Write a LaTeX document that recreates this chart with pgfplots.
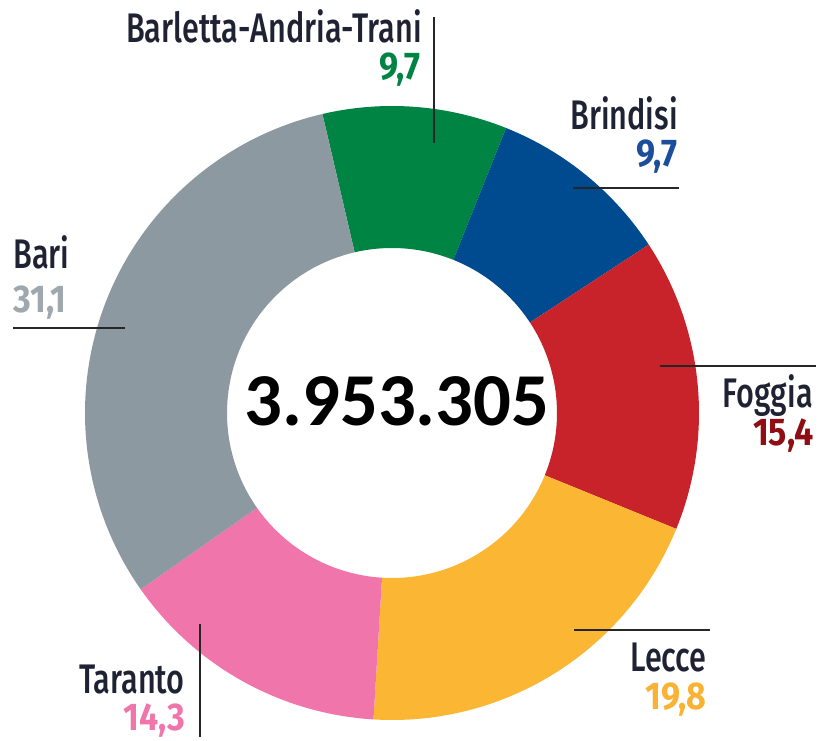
\documentclass[border=0pt]{standalone}
\usepackage{pgfplots}
\pgfplotsset{compat=1.18}
\usepackage{pgfplotstable}
\usepackage{fontspec}
\setmainfont{Fira Sans}
\newfontfamily\lab{Fira Sans Medium}[FakeStretch=0.74]
\newfontfamily\num{Fira Sans}[FakeStretch=0.88]
\newfontfamily\cen{Carlito}
\definecolor{cBAT}{HTML}{008444}
\definecolor{cBR}{HTML}{004A8F}
\definecolor{cFG}{HTML}{C8232B}
\definecolor{cLE}{HTML}{FBB634}
\definecolor{cTA}{HTML}{F075AA}
\definecolor{cBA}{HTML}{8C99A0}
\definecolor{tBAT}{HTML}{008444}
\definecolor{tBR}{HTML}{1C4E9C}
\definecolor{tFG}{HTML}{8E0E14}
\definecolor{tLE}{HTML}{F9B233}
\definecolor{tTA}{HTML}{F075AA}
\definecolor{tBA}{HTML}{9EA8AE}
\definecolor{navy}{HTML}{1F2233}
\pgfplotstableread{
name value col
Barletta-Andria-Trani 9.7 cBAT
Brindisi 9.7 cBR
Foggia 15.4 cFG
Lecce 19.8 cLE
Taranto 14.3 cTA
Bari 31.1 cBA
}\data
\def\cx{392}\def\cy{413}
\def\acc{-13.1}
\newcommand\nm[1]{{\lab\fontsize{31}{33}\selectfont\color{navy}#1}}
\newcommand\vl[2]{{\num\bfseries\fontsize{29}{31}\selectfont\color{#1}#2}}
\begin{document}
\begin{tikzpicture}
\begin{axis}[x=0.75pt, y=0.75pt, xmin=0, xmax=820, ymin=0, ymax=741, y dir=reverse,
  hide axis, clip=false, scale only axis]
\path (axis cs:0,0) rectangle (axis cs:820,741);
\pgfplotsforeachungrouped \i in {0,...,5}{%
  \pgfplotstablegetelem{\i}{value}\of\data \let\v\pgfplotsretval
  \pgfplotstablegetelem{\i}{col}\of\data \let\c\pgfplotsretval
  \pgfmathsetmacro{\aone}{90-\acc}%
  \pgfmathsetmacro{\atwo}{90-\acc-3.6*\v}%
  \pgfmathsetmacro{\acc}{\acc+3.6*\v}%
  \edef\temp{\noexpand\fill[\c] ([shift={(\aone:230.25pt)}]axis cs:\cx,\cy) arc[start angle=\aone, end angle=\atwo, radius=230.25pt] -- ([shift={(\atwo:123.75pt)}]axis cs:\cx,\cy) arc[start angle=\atwo, end angle=\aone, radius=123.75pt] -- cycle;}%
  \temp
}
% leader lines
\draw[line width=1.3pt, black!85] (axis cs:434,17) -- (axis cs:434,143);
\draw[line width=1.3pt, black!85] (axis cs:573,188) -- (axis cs:679,188);
\draw[line width=1.3pt, black!85] (axis cs:660,366) -- (axis cs:816,366);
\draw[line width=1.3pt, black!85] (axis cs:574,630) -- (axis cs:710,630);
\draw[line width=1.3pt, black!85] (axis cs:13,328) -- (axis cs:125,328);
\draw[line width=1.3pt, black!85] (axis cs:200,624) -- (axis cs:200,737);
% labels
\node[anchor=base east, inner sep=0] at (axis cs:422,43) {\nm{Barletta-Andria-Trani}};
\node[anchor=base east, inner sep=0] at (axis cs:421,80) {\vl{tBAT}{9,7}};
\node[anchor=base east, inner sep=0] at (axis cs:678,130) {\nm{Brindisi}};
\node[anchor=base east, inner sep=0] at (axis cs:678,167) {\vl{tBR}{9,7}};
\node[anchor=base east, inner sep=0] at (axis cs:813,407) {\nm{Foggia}};
\node[anchor=base east, inner sep=0] at (axis cs:814,445) {\vl{tFG}{15,4}};
\node[anchor=base east, inner sep=0] at (axis cs:707,671) {\nm{Lecce}};
\node[anchor=base east, inner sep=0] at (axis cs:707,709) {\vl{tLE}{19,8}};
\node[anchor=base west, inner sep=0] at (axis cs:13,269) {\nm{Bari}};
\node[anchor=base west, inner sep=0] at (axis cs:13,312) {\vl{tBA}{31,1}};
\node[anchor=base east, inner sep=0] at (axis cs:185,693) {\nm{Taranto}};
\node[anchor=base east, inner sep=0] at (axis cs:185,730) {\vl{tTA}{14,3}};
\node[anchor=base, inner sep=0] at (axis cs:397,425) {\cen\bfseries\fontsize{56}{60}\selectfont 3.953.305};
\end{axis}
\end{tikzpicture}
\end{document}
